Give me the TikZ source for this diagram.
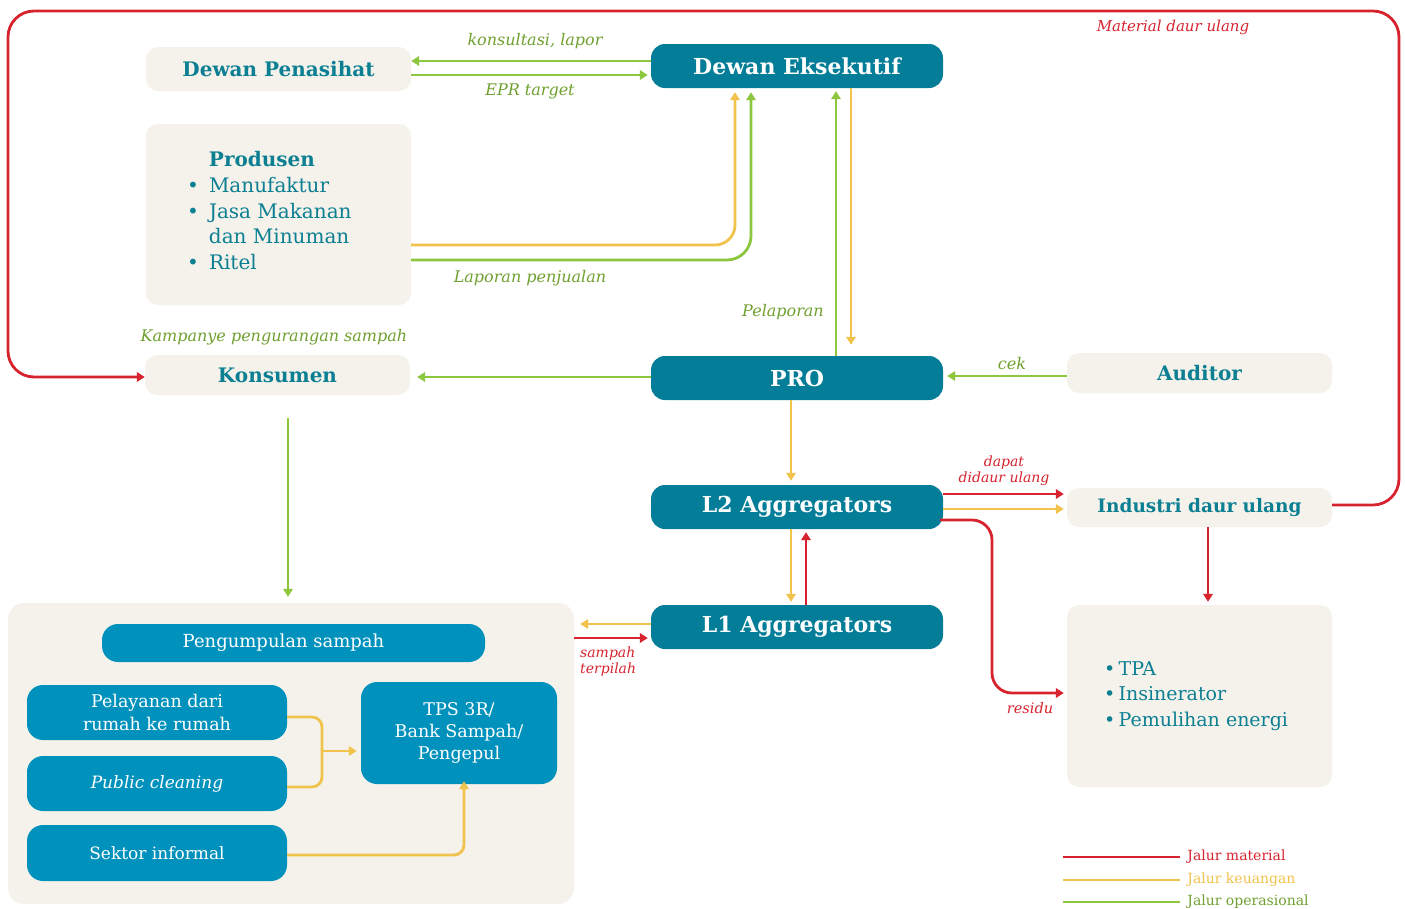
\documentclass[tikz,border=0pt]{standalone}
\usepackage{fontspec}
\setmainfont{DejaVu Serif}
\usetikzlibrary{arrows.meta,calc}
\definecolor{dteal}{HTML}{037D98}
\definecolor{lblue}{HTML}{0092BD}
\definecolor{beige}{HTML}{F4F2EA}
\definecolor{tealtxt}{HTML}{0C7F93}
\definecolor{myred}{HTML}{D6232E}
\definecolor{myyel}{HTML}{F1C24C}
\definecolor{mygrn}{HTML}{8DC63F}
\definecolor{grntxt}{HTML}{6F9F2F}
\tikzset{
  darkbox/.style={fill=dteal, rounded corners=14pt, text=white, inner sep=0pt,
    font=\fontsize{22}{26}\selectfont\bfseries},
  beigebox/.style={fill=beige, rounded corners=12pt, text=tealtxt, inner sep=0pt,
    font=\fontsize{20}{24}\selectfont\bfseries},
  bluebox/.style={fill=lblue, rounded corners=16pt, text=white, inner sep=0pt, align=center,
    font=\fontsize{18}{22}\selectfont},
  ln/.style={line width=2.8pt},
  rd/.style={ln, draw=myred},
  yl/.style={ln, draw=myyel},
  gn/.style={ln, draw=mygrn},
  arr/.style={-{Triangle[length=8pt,width=9.5pt]}},
  lbl/.style={font=\fontsize{14.5}{16}\selectfont\itshape, inner sep=0pt},
  glbl/.style={lbl, text=grntxt, font=\fontsize{16}{18}\selectfont\itshape},
  rlbl/.style={lbl, text=myred},
  legtxt/.style={font=\fontsize{14}{16}\selectfont, inner sep=0pt, anchor=west},
}
\begin{document}
\begin{tikzpicture}[x=1pt,y=-1pt]
\useasboundingbox (0,0) rectangle (1405,908);
% boxes
\node[beigebox, minimum width=265pt, minimum height=44pt] (dp) at (278.5,69) {Dewan Penasihat};
\node[darkbox, minimum width=292pt, minimum height=44pt] (de) at (797,66) {Dewan Eksekutif};
\node[beigebox, minimum width=265pt, minimum height=181pt] (pr) at (278.5,214.5) {};
\node[anchor=west, text=tealtxt, inner sep=0pt, font=\fontsize{20}{25.7}\selectfont] (prt) at (187,213)
  {\begin{tabular}{@{}l@{\hspace{10pt}}l@{}}
   & \textbf{Produsen}\\
   \textbullet & Manufaktur\\
   \textbullet & Jasa Makanan\\
   & dan Minuman\\
   \textbullet & Ritel
   \end{tabular}};
\node[darkbox, minimum width=292pt, minimum height=44pt] (pro) at (797,378) {PRO};
\node[beigebox, minimum width=265pt, minimum height=40pt] (kon) at (277.5,375) {Konsumen};
\node[beigebox, minimum width=265pt, minimum height=40pt] (aud) at (1199.5,373) {Auditor};
\node[darkbox, minimum width=292pt, minimum height=44pt] (l2) at (797,507) {L2 Aggregators};
\node[beigebox, minimum width=265pt, minimum height=39pt, font=\fontsize{18.5}{22}\selectfont\bfseries] (idu) at (1199.5,507.5) {Industri daur ulang};
\node[beigebox, minimum width=265pt, minimum height=182pt] (tpa) at (1199.5,696) {};
\node[anchor=west, text=tealtxt, inner sep=0pt, align=left, font=\fontsize{19}{25.5}\selectfont] (tpat) at (1104,696)
  {\textbullet\,TPA\\ \textbullet\,Insinerator\\ \textbullet\,Pemulihan energi};
\node[darkbox, minimum width=292pt, minimum height=44pt] (l1) at (797,627) {L1 Aggregators};
\node[fill=beige, rounded corners=16pt, minimum width=566pt, minimum height=301pt, inner sep=0pt] (bb) at (291,753.5) {};
\node[bluebox, minimum width=383pt, minimum height=38pt] (pgs) at (293.5,643) {\hspace*{-20pt}Pengumpulan sampah};
\node[bluebox, minimum width=260pt, minimum height=55pt, font=\fontsize{17.5}{22.5}\selectfont] (pel) at (157,712.5) {Pelayanan dari\\rumah ke rumah};
\node[bluebox, minimum width=260pt, minimum height=55pt, font=\fontsize{17}{22}\selectfont\itshape] (pub) at (157,783.5) {Public cleaning};
\node[bluebox, minimum width=260pt, minimum height=56pt, font=\fontsize{17}{22}\selectfont] (sek) at (157,853) {Sektor informal};
\node[bluebox, minimum width=196pt, minimum height=102pt, font=\fontsize{17.5}{22}\selectfont] (tps) at (459,733) {TPS 3R/\\Bank Sampah/\\Pengepul};
% labels
\node[glbl] (l-kons) at (535,41) {konsultasi, lapor};
\node[glbl] (l-epr) at (530,91) {EPR target};
\node[glbl] (l-lap) at (530,278) {Laporan penjualan};
\node[glbl] (l-pel) at (783,312) {Pelaporan};
\node[glbl] (l-kam) at (274,337) {Kampanye pengurangan sampah};
\node[glbl] (l-cek) at (1012,364) {cek};
\node[rlbl, font=\fontsize{15}{17}\selectfont\itshape] (l-mat) at (1173,27) {Material daur ulang};
\node[rlbl, align=center, font=\fontsize{14}{16}\selectfont\itshape] (l-dap) at (1004,471) {dapat\\didaur ulang};
\node[rlbl] (l-res) at (1030,708) {residu};
\node[rlbl, align=left, anchor=west, font=\fontsize{14}{16}\selectfont\itshape] (l-sam) at (580,662) {sampah\\terpilah};
% connectors
\draw[gn,arr] (de.west |- 0,61) -- (dp.east |- 0,61);
\draw[gn,arr,shorten >=3pt] (dp.east |- 0,75) -- (de.west |- 0,75);
\draw[yl,arr,rounded corners=20pt,shorten >=4pt] (pr.east |- 0,245) -- (735,245) -- (de.south -| 735,0);
\draw[gn,arr,rounded corners=24pt,shorten >=4pt] (pr.east |- 0,260) -- (751,260) -- (de.south -| 751,0);
\draw[gn,arr,shorten >=3pt] (pro.north -| 836,0) -- (de.south -| 836,0);
\draw[yl,arr,shorten >=11pt] (de.south -| 851,0) -- (pro.north -| 851,0);
\draw[gn,arr,shorten >=7pt] (pro.west |- 0,377) -- (kon.east |- 0,377);
\draw[gn,arr,shorten >=4pt] (aud.west |- 0,376) -- (pro.east |- 0,376);
\draw[gn,arr,shorten <=23pt,shorten >=6pt] (kon.south -| 288,0) -- (bb.north -| 288,0);
\draw[yl,arr,shorten >=4pt] (pro.south -| 791,0) -- (l2.north -| 791,0);
\draw[rd,arr,shorten >=3pt] (l2.east |- 0,494) -- (idu.west |- 0,494);
\draw[yl,arr,shorten >=3pt] (l2.east |- 0,509) -- (idu.west |- 0,509);
\draw[rd,arr,rounded corners=20pt,shorten >=3pt] ([xshift=-3pt]l2.east |- 0,520) -- (992,520) -- (992,693) -- (tpa.west |- 0,693);
\draw[rd,arr,shorten >=3pt] (idu.south -| 1208,0) -- (tpa.north -| 1208,0);
\draw[yl,arr,shorten >=3pt] (l2.south -| 791,0) -- (l1.north -| 791,0);
\draw[rd,arr,shorten >=3pt] (l1.north -| 806,0) -- (l2.south -| 806,0);
\draw[yl,arr,shorten >=6pt] (l1.west |- 0,624) -- (bb.east |- 0,624);
\draw[rd,arr,shorten >=3pt] (bb.east |- 0,638) -- (l1.west |- 0,638);
\coordinate (jn) at (322,751);
\draw[yl,rounded corners=10pt] (pel.east |- 0,717) -- (322,717) -- (322,787) -- (pub.east |- 0,787);
\draw[yl,arr,shorten >=4pt] (jn) -- (tps.west |- jn);
\draw[yl,arr,rounded corners=10pt,shorten >=-3pt] (sek.east |- 0,855) -- (464,855) -- (tps.south -| 464,0);
\draw[rd,arr,rounded corners=26pt] (idu.east |- 0,505) -- (1399,505) -- (1399,11) -- (8,11) -- (8,377) -- (kon.west |- 0,377);
% legend
\coordinate (lg1) at (1063,857);
\coordinate (lg2) at (1063,880);
\coordinate (lg3) at (1063,902);
\draw[rd] (lg1) -- ++(117,0) node[legtxt, text=myred, xshift=6pt] (lt1) {Jalur material};
\draw[yl] (lg2) -- ++(117,0) node[legtxt, text=myyel, xshift=6pt] (lt2) {Jalur keuangan};
\draw[gn] (lg3) -- ++(117,0) node[legtxt, text=grntxt, xshift=6pt] (lt3) {Jalur operasional};
\end{tikzpicture}
\end{document}
